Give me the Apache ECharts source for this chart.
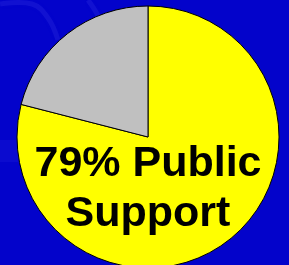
<!DOCTYPE html>
<html>
<head>
<meta charset="utf-8">
<script src="https://cdn.jsdelivr.net/npm/echarts@6/dist/echarts.min.js"></script>
<style>
  html, body { margin: 0; padding: 0; }
  #chart { width: 289px; height: 265px; }
</style>
</head>
<body>
<div id="chart"></div>
<script>
  // support share
  const categories = ['Support', 'Other'];
  const values = [79, 21];
  const colors = ['#ffff00', '#c0c0c0'];
  const caption = ['79% Public', 'Support'];

  const chart = echarts.init(document.getElementById('chart'));

  // faint texture streaks of the slide background
  const streak = (pts) => ({
    type: 'polyline',
    shape: { points: pts, smooth: 0.4 },
    style: { stroke: 'rgba(120,120,255,0.12)', lineWidth: 5, fill: null, shadowBlur: 6, shadowColor: 'rgba(120,120,255,0.2)' },
    silent: true,
    z: 0
  });

  const option = {
    backgroundColor: '#0303cb',
    graphic: [
      streak([[0, 4], [32, 4], [48, 18], [58, 40]]),
      streak([[88, 0], [96, 12], [104, 28]]),
      {
        type: 'rect',
        shape: { x: 0, y: 140, width: 40, height: 22 },
        style: { fill: 'rgba(120,120,255,0.08)' },
        silent: true,
        z: 0
      },
      {
        type: 'text',
        x: 148,
        y: 139,
        style: {
          text: caption.join('\n'),
          font: 'bold 43px "Liberation Sans", Arial, sans-serif',
          fill: '#000',
          textAlign: 'center',
          lineHeight: 50
        },
        z: 10
      }
    ],
    series: [
      {
        type: 'pie',
        center: [148, 137],
        radius: 131,
        startAngle: 90,
        clockwise: true,
        silent: true,
        z: 2,
        label: { show: false },
        labelLine: { show: false },
        itemStyle: { borderColor: '#000', borderWidth: 1 },
        data: categories.map((c, i) => ({
          name: c,
          value: values[i],
          itemStyle: { color: colors[i] }
        }))
      }
    ]
  };

  chart.setOption(option);
</script>
</body>
</html>
